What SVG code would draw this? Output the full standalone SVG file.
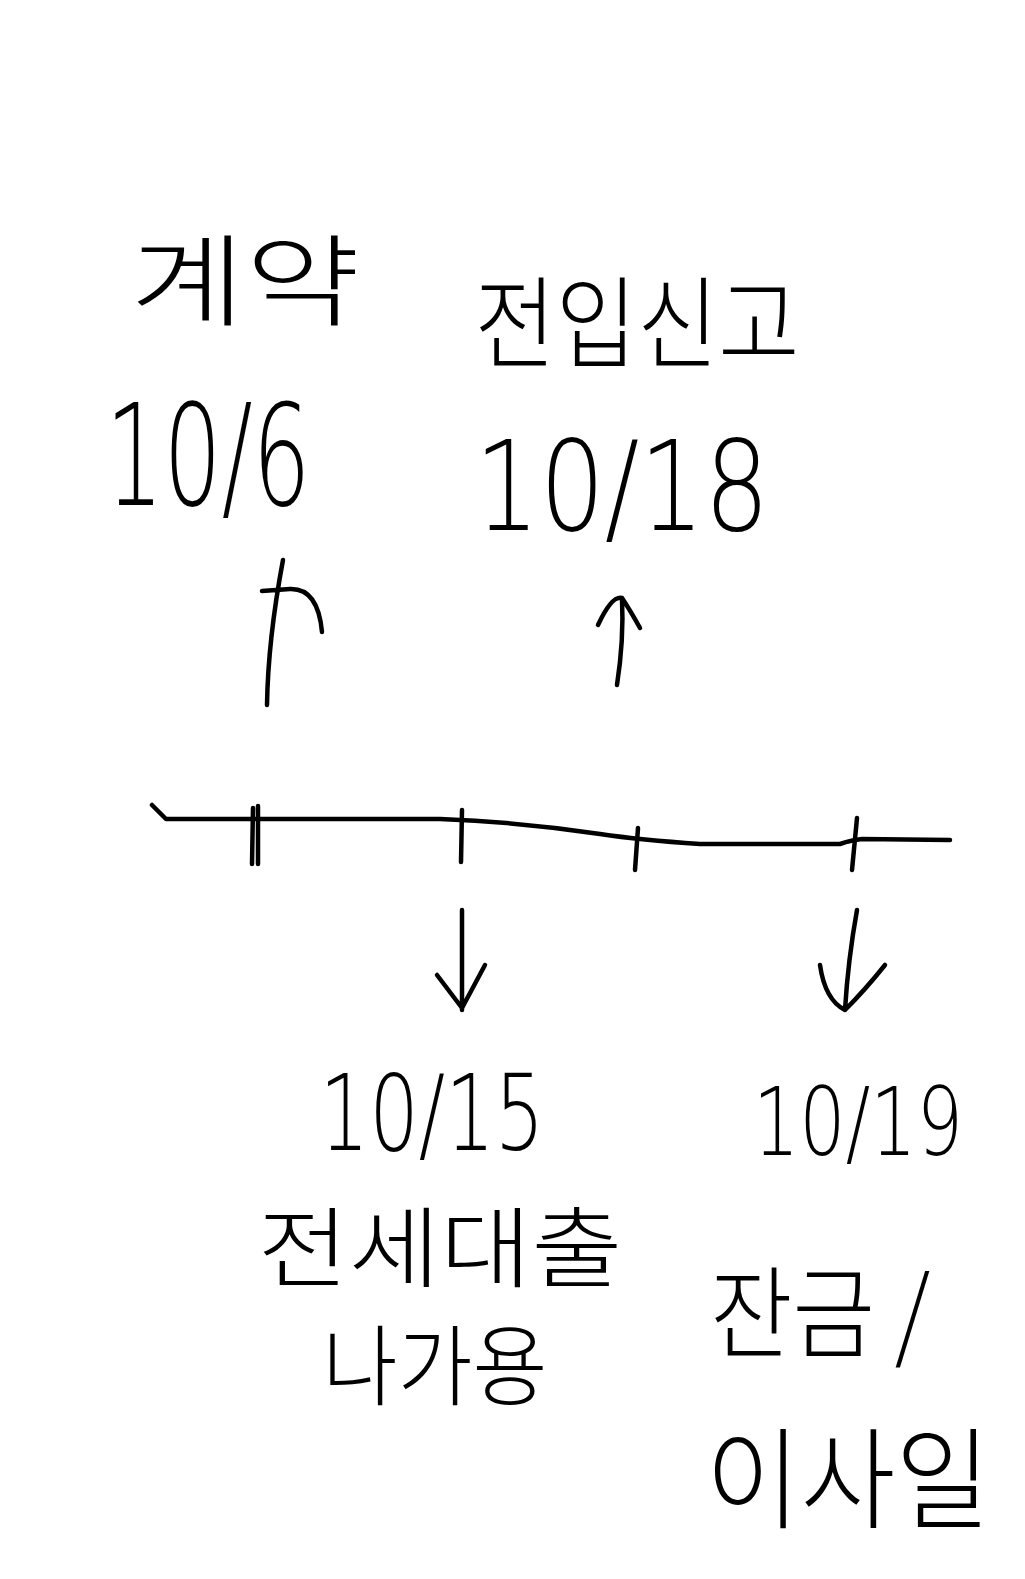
<svg xmlns="http://www.w3.org/2000/svg" width="1025" height="1579" viewBox="0 0 1025 1579">
<style>
.ko{font-family:"Noto Sans CJK KR","Noto Sans",sans-serif;font-weight:300;fill:#000;text-anchor:middle}
.num{font-family:"DejaVu Sans","Liberation Sans",sans-serif;font-weight:200;fill:#000;text-anchor:middle}
.ln{fill:none;stroke:#000;stroke-width:4.5;stroke-linecap:round;stroke-linejoin:round}
</style>
<rect width="1025" height="1579" fill="#fff"/>
<g id="contract">
<text class="ko" x="245" y="318" font-size="100" textLength="230" lengthAdjust="spacingAndGlyphs">계약</text>
<text class="num" x="208" y="505" font-size="140" textLength="205" lengthAdjust="spacingAndGlyphs">10/6</text>
</g>
<g id="move-in-report">
<text class="ko" x="637" y="360" font-size="100" textLength="325" lengthAdjust="spacingAndGlyphs">전입신고</text>
<text class="num" x="622" y="530" font-size="125" textLength="295" lengthAdjust="spacingAndGlyphs">10/18</text>
</g>
<g id="loan">
<text class="num" x="432" y="1150" font-size="105" textLength="225" lengthAdjust="spacingAndGlyphs">10/15</text>
<text class="ko" x="440" y="1280" font-size="88" textLength="365" lengthAdjust="spacingAndGlyphs">전세대출</text>
<text class="ko" x="435" y="1398" font-size="88" textLength="225" lengthAdjust="spacingAndGlyphs">나가용</text>
</g>
<g id="balance-moving">
<text class="num" x="858" y="1155" font-size="95" textLength="210" lengthAdjust="spacingAndGlyphs">10/19</text>
<text class="ko" x="820" y="1350" font-size="100" textLength="220" lengthAdjust="spacingAndGlyphs">잔금 /</text>
<text class="ko" x="848" y="1520" font-size="110" textLength="285" lengthAdjust="spacingAndGlyphs">이사일</text>
</g>
<g id="connectors">
<path class="ln" d="M152,805 L166,819 L440,819 Q520,822 600,834 Q640,840 700,844 L840,844 Q852,840 862,839 L950,840"/>
<path class="ln" d="M253,808 L252,864 M258,806 L258,864"/>
<path class="ln" d="M462,810 L461,862"/>
<path class="ln" d="M638,828 L635,870"/>
<path class="ln" d="M857,818 L852,870"/>
<path class="ln" d="M267,705 Q268,640 283,560 M262,591 L290,589 Q318,588 322,632"/>
<path class="ln" d="M617,685 Q624,640 622,598 M598,625 Q612,595 622,598 Q630,610 640,628"/>
<path class="ln" d="M462,910 L462,1010 M437,975 L462,1008 L485,965"/>
<path class="ln" d="M857,910 Q848,960 845,1010 M820,965 Q825,1000 845,1010 Q865,990 885,965"/>
</g>
</svg>
